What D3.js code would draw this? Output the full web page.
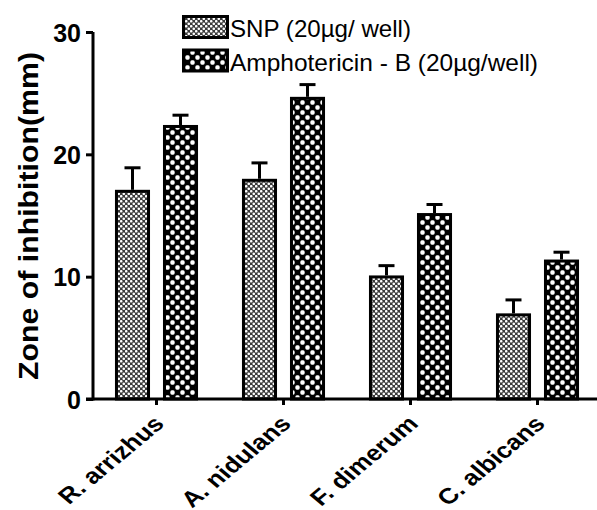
<!DOCTYPE html>
<html><head><meta charset="utf-8">
<script src="https://cdn.jsdelivr.net/npm/d3@7"></script>
<style>body{margin:0;background:#fff}</style>
</head><body>
<svg id="c" width="597" height="510"></svg>
<script>
const categories = ["R. arrizhus", "A. nidulans", "F. dimerum", "C. albicans"];
const seriesNames = ["SNP (20\u00b5g/ well)", "Amphotericin - B (20\u00b5g/well)"];
const snpValues = [17.1, 18.0, 10.1, 7.0];
const snpErrors = [1.8, 1.3, 0.8, 1.1];
const amphoValues = [22.4, 24.7, 15.2, 11.4];
const amphoErrors = [0.8, 1.0, 0.7, 0.6];
const yTicks = [0, 10, 20, 30];

const svg = d3.select("#c");
const font = "'Liberation Sans', Arial, sans-serif";
const defs = svg.append("defs");
const p1 = defs.append("pattern").attr("id","pSnp").attr("patternUnits","userSpaceOnUse").attr("width",5).attr("height",5);
p1.append("rect").attr("width",5).attr("height",5).attr("fill","#3a3a3a");
p1.append("circle").attr("cx",1.25).attr("cy",1.25).attr("r",1.3).attr("fill","#fff");
p1.append("circle").attr("cx",3.75).attr("cy",3.75).attr("r",1.3).attr("fill","#fff");
const p2 = defs.append("pattern").attr("id","pAmp").attr("patternUnits","userSpaceOnUse").attr("width",10).attr("height",10);
p2.append("rect").attr("width",10).attr("height",10).attr("fill","#000");
p2.append("rect").attr("x",0.3).attr("y",0.3).attr("width",4.4).attr("height",4.4).attr("rx",1.6).attr("fill","#fff");
p2.append("rect").attr("x",5.3).attr("y",5.3).attr("width",4.4).attr("height",4.4).attr("rx",1.6).attr("fill","#fff");

const x0 = d3.scaleBand().domain(categories).range([93, 601]).paddingInner(0.346).paddingOuter(0.173);
const x1 = d3.scaleBand().domain([0,1]).range([0, x0.bandwidth()]).paddingInner(0.27);
const y = d3.scaleLinear().domain([0, 30]).range([399, 32]);

const data = categories.map((c,i)=>[
  {c, s:0, v:snpValues[i], e:snpErrors[i], fill:"url(#pSnp)"},
  {c, s:1, v:amphoValues[i], e:amphoErrors[i], fill:"url(#pAmp)"}
]).flat();

const g = svg.append("g");
data.forEach(d=>{
  const cx = x0(d.c) + x1(d.s) + x1.bandwidth()/2;
  g.append("line").attr("x1",cx).attr("x2",cx).attr("y1",y(d.v)).attr("y2",y(d.v+d.e)).attr("stroke","#000").attr("stroke-width",3);
  g.append("line").attr("x1",cx-8).attr("x2",cx+8).attr("y1",y(d.v+d.e)).attr("y2",y(d.v+d.e)).attr("stroke","#000").attr("stroke-width",3);
});
g.selectAll("rect.bar").data(data).join("rect").attr("class","bar")
  .attr("x",d=>x0(d.c)+x1(d.s)+1.5)
  .attr("width",x1.bandwidth()-3)
  .attr("y",d=>y(d.v)+1.5)
  .attr("height",d=>y(0)-y(d.v)-1.5)
  .attr("fill",d=>d.fill).attr("stroke","#000").attr("stroke-width",3);

const ya = svg.append("g").attr("transform","translate(93,0)")
  .call(d3.axisLeft(y).tickValues(yTicks).tickSize(7).tickPadding(5));
ya.select(".domain").attr("stroke-width",3).attr("d","M0,"+y(30)+"V"+(y(0)+1.5));
ya.selectAll(".tick line").attr("stroke-width",3);
ya.selectAll("text").attr("font-family",font).attr("font-weight","bold").attr("font-size",25).attr("fill","#000")
  .attr("dy","0.36em");

const xa = svg.append("g").attr("transform","translate(0,399)")
  .call(d3.axisBottom(x0).tickSize(6).tickPadding(6));
xa.select(".domain").attr("stroke-width",3).attr("d","M86,0H597");
xa.selectAll(".tick line").attr("stroke-width",3);
xa.selectAll("text").attr("font-family",font).attr("font-weight","bold").attr("font-size",22).attr("fill","#000")
  .attr("text-anchor","end").attr("y",0).attr("dy",0)
  .attr("transform","translate(9,26) scale(1.2,1) rotate(-45)");

svg.append("text").attr("transform","translate(38,216) rotate(-90)").attr("text-anchor","middle")
  .attr("font-family",font).attr("font-weight","bold").attr("font-size",27)
  .attr("textLength",328).attr("lengthAdjust","spacingAndGlyphs").text("Zone of inhibition(mm)");

const legendLens = [181, 308];
const lg = svg.append("g");
seriesNames.forEach((n,i)=>{
  const yy = 15 + i*33.5;
  lg.append("rect").attr("x",183.5).attr("y",yy+1.5).attr("width",44).attr("height",21).attr("fill",i?"url(#pAmp)":"url(#pSnp)").attr("stroke","#000").attr("stroke-width",3);
  lg.append("text").attr("x",230).attr("y",yy+22).attr("font-family",font).attr("font-size",24)
    .attr("textLength",legendLens[i]).attr("lengthAdjust","spacingAndGlyphs").text(n);
});
</script>
</body></html>
